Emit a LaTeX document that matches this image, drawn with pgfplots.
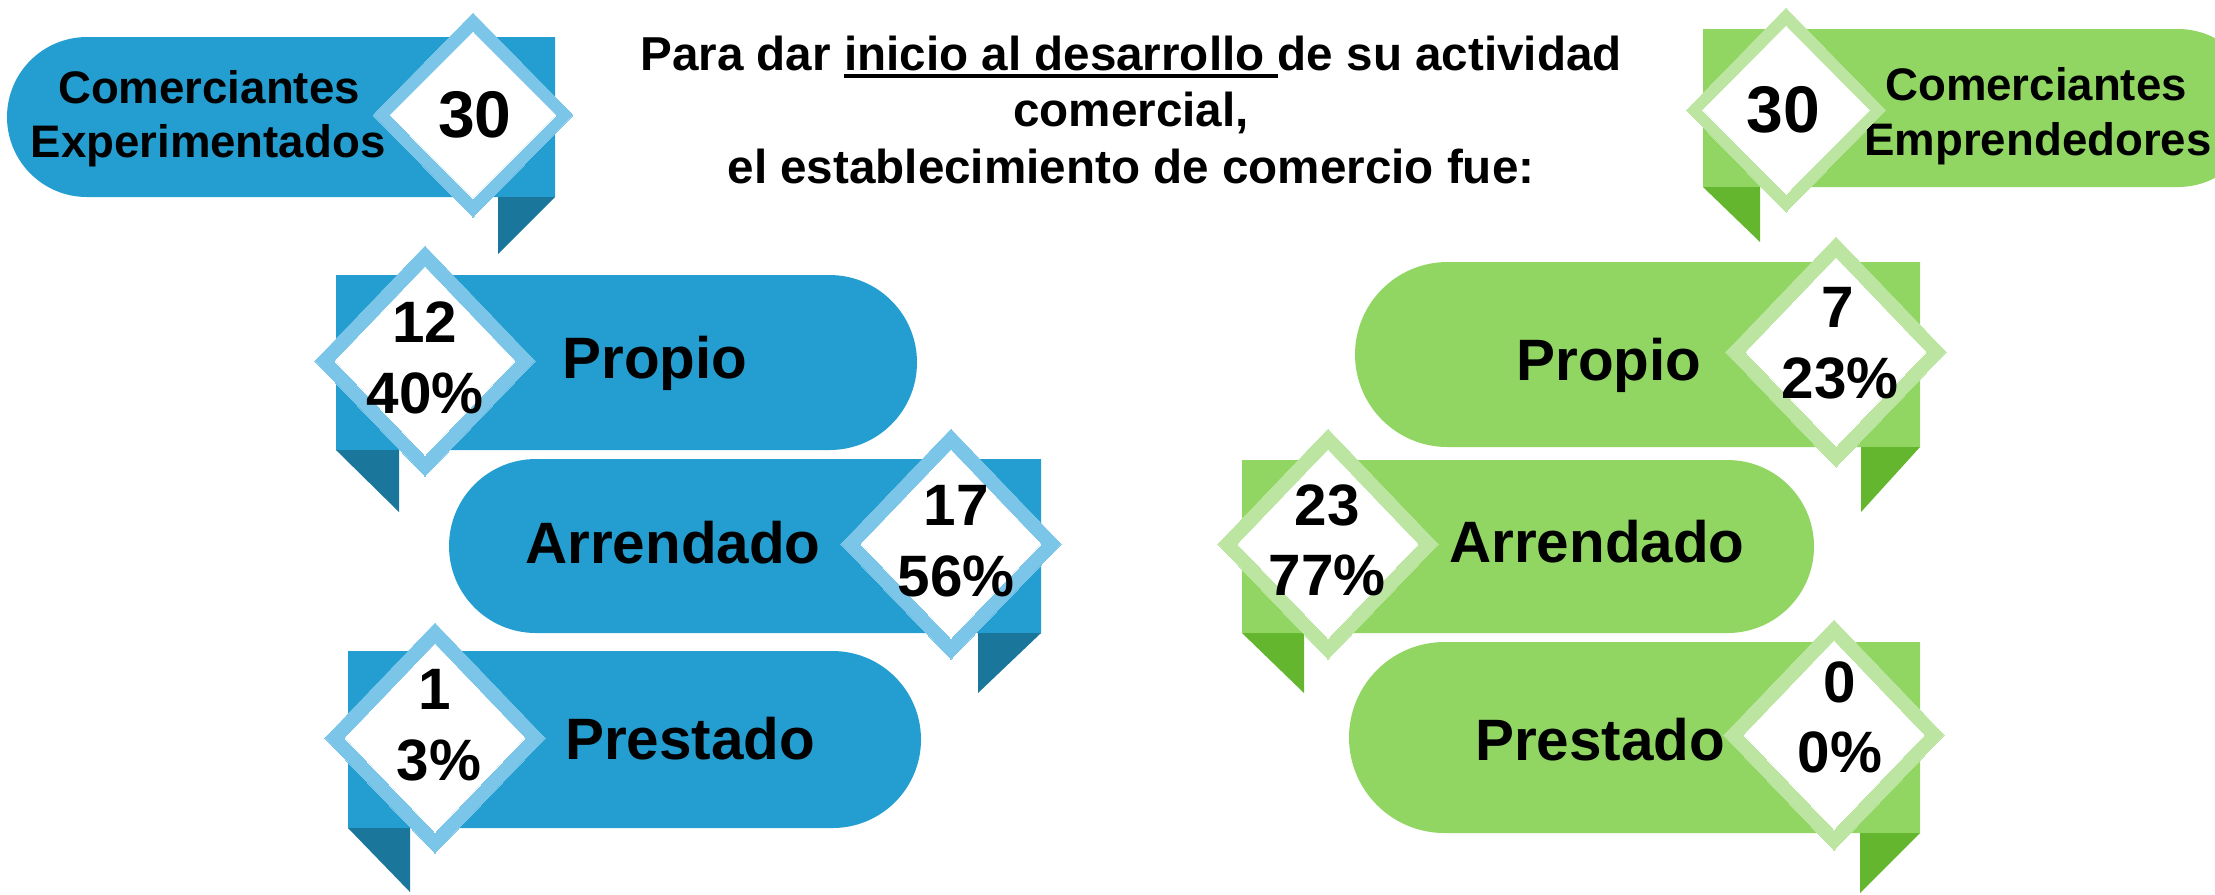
\documentclass[border=0pt]{standalone}
\usepackage{fontspec}
\setmainfont{Liberation Sans}
\usepackage{pgfplots}
\usepackage{pgfplotstable}
\pgfplotsset{compat=1.18}
\definecolor{bM}{RGB}{36,158,208}
\definecolor{bD}{RGB}{27,118,156}
\definecolor{bL}{RGB}{123,197,232}
\definecolor{gM}{RGB}{145,214,98}
\definecolor{gD}{RGB}{100,182,46}
\definecolor{gL}{RGB}{188,229,162}
\newcommand\lbl{\fontsize{14.6}{16}\selectfont\bfseries}
\newcommand\hdr{\fontsize{11.4}{13.5}\selectfont\bfseries}
\newcommand\tot{\fontsize{16.5}{18}\selectfont\bfseries}
\newcommand\ttl{\fontsize{11.9}{14}\selectfont\bfseries}
\newcommand\ul[1]{\setbox0\hbox{#1}\rlap{\rule[-1.95pt]{\wd0}{0.9pt}}\box0}
% banner with round left end: color, left extreme, flat right, top, bottom, radius (px)
\newcommand\bannerL[6]{\fill[#1] (#3,#4) -- ({#2+#6},#4) arc[start angle=90,end angle=270,radius={#6*0.25pt}] -- (#3,#5) -- cycle;}
% banner with round right end: color, flat left, right extreme, top, bottom, radius (px)
\newcommand\bannerR[6]{\fill[#1] (#2,#4) -- ({#3-#6},#4) arc[start angle=90,end angle=-90,radius={#6*0.25pt}] -- (#2,#5) -- cycle;}

% Comerciantes Experimentados
\pgfplotstableread{
x y cx cy count px py pct
425 361 425 342 12 425 413 40
951 544 956 525 17 956 596 56
435 738 435 709 1 439 780 3
}\expdata
% Comerciantes Emprendedores
\pgfplotstableread{
x y cx cy count px py pct
1836 352 1838 327 7 1840 398 23
1328 544 1327 525 23 1327 595 77
1834 735 1840 702 0 1840 772 0
}\empdata
\pgfplotstableread{
x y tx ty total
473 115 475 137 30
}\exphead
\pgfplotstableread{
x y tx ty total
1786 110 1783 132 30
}\emphead

\pgfplotsset{
  dmd/.style n args={3}{only marks, mark=diamond*, mark size=#2,
     mark options={draw=#1, fill=#1, line width=0pt, xscale=#3}},
  numlbl/.style={only marks, mark=none, point meta=explicit symbolic,
     nodes near coords style={font=\lbl, anchor=base, inner sep=0pt, text=black}},
}

\begin{document}
\begin{tikzpicture}
\begin{axis}[name=ax,
  width=553.75pt, height=223.5pt, scale only axis,
  xmin=0, xmax=2215, ymin=0, ymax=894, y dir=reverse,
  hide axis, clip=true]
% ---- blue banners ----
\bannerL{bM}{7}{555}{37}{197}{80}
\fill[bD] (498,197) -- (555,197) -- (498,254) -- cycle;
\bannerR{bM}{336}{917}{275}{450}{87.5}
\fill[bD] (336,450) -- (399,450) -- (399,512) -- cycle;
\bannerL{bM}{449}{1041}{459}{633}{87}
\fill[bD] (978,633) -- (1041,633) -- (978,693) -- cycle;
\bannerR{bM}{348}{921}{651}{828}{88.5}
\fill[bD] (348,828) -- (410,828) -- (410,892) -- cycle;
% ---- green banners ----
\bannerR{gM}{1703}{2257}{29}{187}{79}
\fill[gD] (1703,187) -- (1760,187) -- (1760,242) -- cycle;
\bannerL{gM}{1355}{1920}{262}{447}{92.5}
\fill[gD] (1861,447) -- (1920,447) -- (1861,512) -- cycle;
\bannerR{gM}{1242}{1814}{460}{633}{86.5}
\fill[gD] (1242,633) -- (1304,633) -- (1304,693) -- cycle;
\bannerL{gM}{1349}{1920}{642}{833}{95.5}
\fill[gD] (1860,833) -- (1920,833) -- (1860,893) -- cycle;
% ---- header diamonds ----
\addplot[dmd={bL}{25.5pt}{1.307}] table[x=x,y=y] {\exphead};
\addplot[dmd={white}{20.75pt}{1.333}] table[x=x,y=y] {\exphead};
\addplot[dmd={gL}{25.5pt}{1.30}] table[x=x,y=y] {\emphead};
\addplot[dmd={white}{21pt}{1.32}] table[x=x,y=y] {\emphead};
% ---- item diamonds ----
\addplot[dmd={bL}{28.75pt}{1.276}] table[x=x,y=y] {\expdata};
\addplot[dmd={white}{23.5pt}{1.276}] table[x=x,y=y] {\expdata};
\addplot[dmd={gL}{28.75pt}{1.276}] table[x=x,y=y] {\empdata};
\addplot[dmd={white}{23.5pt}{1.276}] table[x=x,y=y] {\empdata};
% ---- numbers ----
\addplot[numlbl, nodes near coords] table[x=cx,y=cy,meta=count] {\expdata};
\addplot[numlbl, nodes near coords={\pgfplotspointmeta\%}] table[x=px,y=py,meta=pct] {\expdata};
\addplot[numlbl, nodes near coords] table[x=cx,y=cy,meta=count] {\empdata};
\addplot[numlbl, nodes near coords={\pgfplotspointmeta\%}] table[x=px,y=py,meta=pct] {\empdata};
\addplot[numlbl, nodes near coords, nodes near coords style={font=\tot}] table[x=tx,y=ty,meta=total] {\exphead};
\addplot[numlbl, nodes near coords, nodes near coords style={font=\tot}] table[x=tx,y=ty,meta=total] {\emphead};
% ---- texts ----
\node[anchor=base, inner sep=0pt, font=\hdr] at (209,103) {Comerciantes};
\node[anchor=base, inner sep=0pt, font=\hdr] at (208,157) {Experimentados};
\node[anchor=base, inner sep=0pt, font=\hdr] at (2036,100) {Comerciantes};
\node[anchor=base, inner sep=0pt, font=\hdr] at (2038,155) {Emprendedores};
\node[anchor=base, inner sep=0pt, font=\ttl] at (1131,70) {Para dar \ul{inicio al desarrollo\ }de su actividad};
\node[anchor=base, inner sep=0pt, font=\ttl] at (1131,126) {comercial,};
\node[anchor=base, inner sep=0pt, font=\ttl] at (1131,183) {el establecimiento de comercio fue:};
\node[anchor=base, inner sep=0pt, font=\lbl] at (655,378) {Propio};
\node[anchor=base, inner sep=0pt, font=\lbl] at (673,563) {Arrendado};
\node[anchor=base, inner sep=0pt, font=\lbl] at (690,759) {Prestado};
\node[anchor=base, inner sep=0pt, font=\lbl] at (1609,380) {Propio};
\node[anchor=base, inner sep=0pt, font=\lbl] at (1597,562) {Arrendado};
\node[anchor=base, inner sep=0pt, font=\lbl] at (1600,760) {Prestado};
\end{axis}
\pgfresetboundingbox
\path (ax.south west) rectangle (ax.north east);
\end{tikzpicture}
\end{document}
